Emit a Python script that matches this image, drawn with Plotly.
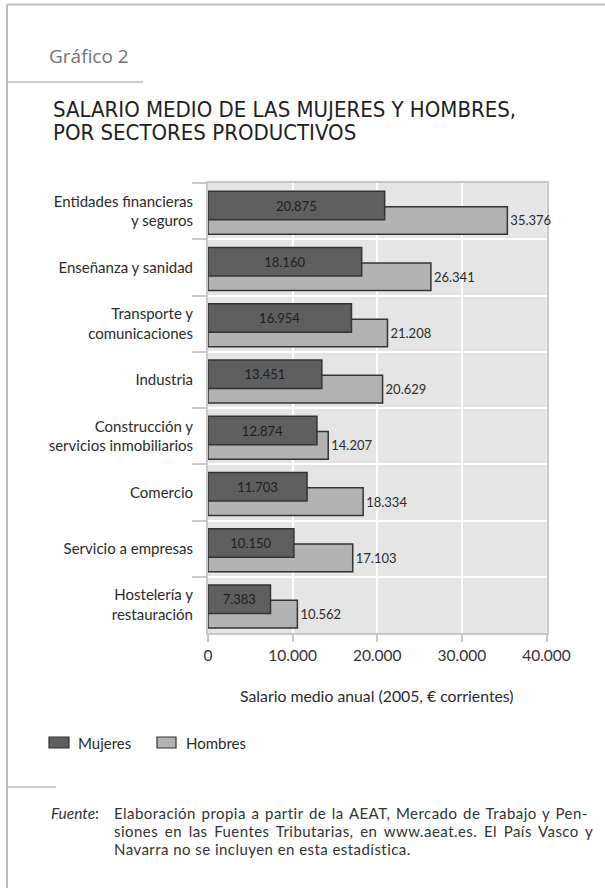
import plotly.graph_objects as go

# Sectors, listed from bottom to top of the chart
sectores = [
    "Hostelería y<br>restauración",
    "Servicio a empresas",
    "Comercio",
    "Construcción y<br>servicios inmobiliarios",
    "Industria",
    "Transporte y<br>comunicaciones",
    "Enseñanza y sanidad",
    "Entidades financieras<br>y seguros",
]
mujeres = [7383, 10150, 11703, 12874, 13451, 16954, 18160, 20875]
hombres = [10562, 17103, 18334, 14207, 20629, 21208, 26341, 35376]

x_ticks = [0, 10000, 20000, 30000, 40000]

fuente_lineas = [
    "Elaboración propia a partir de la AEAT, Mercado de Trabajo y Pen-",
    "siones en las Fuentes Tributarias, en www.aeat.es. El País Vasco y",
    "Navarra no se incluyen en esta estadística.",
]
# word spacing (px) that makes the first two lines fill the text column
espaciado = [1.4, 2.4, 0]

W, H = 605, 888
FONT = "Lato, 'Open Sans', sans-serif"
TITLE_FONT = "'DejaVu Sans Condensed', Lato, sans-serif"
TXT = "#2b2b2b"
C_MUJ = "#5f5f5f"
C_HOM = "#b3b3b3"
C_EDGE = "#333333"


def px(x):
    return x / W


def py(y):
    return 1 - y / H


fig = go.Figure()

# Men drawn first so the women's bars sit on top
fig.add_trace(go.Bar(
    name="Hombres", y=sectores, x=hombres, orientation="h",
    width=0.49, offset=-0.41,
    marker=dict(color=C_HOM, line=dict(color=C_EDGE, width=1.5)),
    text=hombres, texttemplate="%{x:,.0f}", textposition="outside",
    textfont=dict(family=FONT, size=13, color=TXT),
    cliponaxis=False, showlegend=False,
))
fig.add_trace(go.Bar(
    name="Mujeres", y=sectores, x=mujeres, orientation="h",
    width=0.51, offset=-0.155,
    marker=dict(color=C_MUJ, line=dict(color=C_EDGE, width=1.5)),
    text=mujeres, texttemplate="%{x:,.0f}", textposition="inside",
    insidetextanchor="middle", textangle=0, constraintext="none",
    textfont=dict(family=FONT, size=13, color="#1e1e1e"),
    showlegend=False,
))

axis_line = "#c8c8c8"

fig.update_layout(
    width=W, height=H,
    margin=dict(l=0, r=0, t=0, b=0),
    paper_bgcolor="white",
    plot_bgcolor="#e5e5e5",
    barmode="overlay",
    separators=",.",
    font=dict(family=FONT, color=TXT),
    xaxis=dict(
        domain=[px(208), px(546.5)],
        range=[0, 40000], tickvals=x_ticks, tickformat=",.0f",
        showgrid=True, gridcolor="white", gridwidth=1.5,
        zeroline=False,
        showline=True, mirror=True, linecolor=axis_line, linewidth=2,
        ticks="outside", ticklen=7, tickcolor=axis_line, tickwidth=2,
        tickfont=dict(family=FONT, size=15.5, color="#333333"),
        automargin=False, fixedrange=True,
    ),
    yaxis=dict(
        domain=[py(633), py(183)],
        type="category", categoryorder="array", categoryarray=sectores,
        tickson="boundaries",
        showgrid=True, gridcolor="white", gridwidth=1.5,
        showline=True, mirror=True, linecolor=axis_line, linewidth=2,
        ticks="outside", ticklen=14, tickcolor=axis_line, tickwidth=2,
        ticklabelstandoff=10,
        tickfont=dict(family=FONT, size=15, color=TXT),
        layer="below traces",
        automargin=False, fixedrange=True,
    ),
    showlegend=False,
)

frame = "#bdbdbd"
shapes = [
    dict(type="line", x0=px(7), x1=1, y0=py(4.5), y1=py(4.5),
         line=dict(color=frame, width=2)),
    dict(type="line", x0=px(7), x1=px(7), y0=py(4.5), y1=0,
         line=dict(color=frame, width=2)),
    dict(type="line", x0=px(7), x1=px(143), y0=py(82), y1=py(82),
         line=dict(color=frame, width=1.5)),
    dict(type="line", x0=px(7), x1=px(56), y0=py(787), y1=py(787),
         line=dict(color=frame, width=1.5)),
    # legend swatches
    dict(type="rect", x0=px(49), x1=px(69), y0=py(737), y1=py(748),
         fillcolor=C_MUJ, line=dict(color=C_EDGE, width=1.2)),
    dict(type="rect", x0=px(157), x1=px(176), y0=py(737), y1=py(748),
         fillcolor=C_HOM, line=dict(color=C_EDGE, width=1.2)),
]
for s in shapes:
    s.update(xref="paper", yref="paper")
fig.update_layout(shapes=shapes)

fuente_texto = "<br>".join(
    f'<span style="font-size:15px;letter-spacing:0.45px;word-spacing:{ws}px">{l}</span>'
    for l, ws in zip(fuente_lineas, espaciado)
)

annotations = [
    dict(text="Gráfico 2", x=px(47), y=py(56), xanchor="left", yanchor="middle",
         font=dict(family="'Open Sans', sans-serif", size=19, color="#747474")),
    dict(text="SALARIO MEDIO DE LAS MUJERES Y HOMBRES,", x=px(51), y=py(109),
         xanchor="left", yanchor="middle",
         font=dict(family=TITLE_FONT, size=22, color="#1f1f1f")),
    dict(text="POR SECTORES PRODUCTIVOS", x=px(51), y=py(133),
         xanchor="left", yanchor="middle",
         font=dict(family=TITLE_FONT, size=22, color="#1f1f1f")),
    dict(text="Salario medio anual (2005, € corrientes)", x=px(377), y=py(695),
         xanchor="center", yanchor="middle",
         font=dict(family=FONT, size=15.8, color=TXT)),
    dict(text="Mujeres", x=px(76), y=py(742.5), xanchor="left", yanchor="middle",
         font=dict(family=FONT, size=15, color=TXT)),
    dict(text="Hombres", x=px(184), y=py(742.5), xanchor="left", yanchor="middle",
         font=dict(family=FONT, size=15, color=TXT)),
    dict(text="<i>Fuente</i>:", x=px(49), y=py(813), xanchor="left", yanchor="middle",
         font=dict(family=FONT, size=15.5, color="#333333")),
    dict(text=fuente_texto, x=px(112), y=py(831), xanchor="left", yanchor="middle",
         align="left", font=dict(family=FONT, size=13.85, color="#333333")),
]
for a in annotations:
    a.update(xref="paper", yref="paper", showarrow=False)
fig.update_layout(annotations=annotations)

fig.write_html("out.html")
